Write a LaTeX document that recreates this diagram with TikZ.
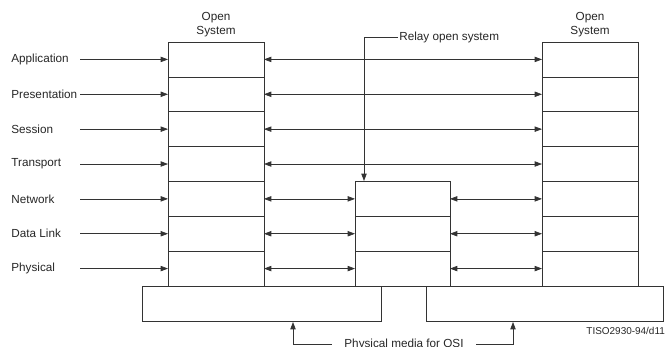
\documentclass[tikz,border=0pt]{standalone}
\usepackage{fontspec}
\setmainfont{Liberation Sans}
\usetikzlibrary{arrows.meta,positioning,calc}
\tikzset{
  layer/.style={draw=black!80, line width=0.6pt, minimum width=2.88cm, minimum height=1.046cm, inner sep=0pt, outer sep=0pt},
  media/.style={draw=black!80, line width=0.6pt, minimum height=1.05cm, inner sep=0pt, outer sep=0pt},
  lbl/.style={anchor=west, inner sep=1pt},
  line/.style={-{Triangle[length=2.2mm,width=1.6mm]}, draw=black!80, line width=0.6pt},
  dline/.style={{Triangle[length=2.2mm,width=1.6mm]}-{Triangle[length=2.2mm,width=1.6mm]}, draw=black!80, line width=0.6pt}
}
\begin{document}
\begin{tikzpicture}[x=0.03cm, y=-0.03cm, font=\fontsize{10}{12}\selectfont, text=black!85]
  \useasboundingbox (0,0) rectangle (671,347);
  % open systems and layer names
  \node[align=center] (osl) at (216,25) {Open\\System};
  \node[align=center] (osr) at (590,25) {Open\\System};
  \foreach \i/\name in {1/Application,2/Presentation,3/Session,4/Transport,5/Network,6/Data Link,7/Physical} {
    \node[lbl] (lbl\i) at (10,{42+(\i-0.5)*34.86}) {\name};
    \coordinate (s\i) at (80,{42+(\i-0.5)*34.86});
    \node[layer] (L\i) at (216,{42+(\i-0.5)*34.86}) {};
    \node[layer] (R\i) at (590,{42+(\i-0.5)*34.86}) {};
    \draw[line] (s\i) -- (L\i);
  }
  % relay open system
  \foreach \i in {5,6,7}
    \node[layer, minimum width=2.85cm] (M\i) at (402.5,{42+(\i-0.5)*34.86}) {};
  \foreach \i in {1,...,4}
    \draw[dline] (L\i) -- (R\i);
  \foreach \i in {5,6,7} {
    \draw[dline] (L\i) -- (M\i);
    \draw[dline] (M\i) -- (R\i);
  }
  \node[lbl] (relay) at (398,37) {Relay open system};
  \coordinate (rtip) at (364,181);
  \draw[line] (relay.west) -| (rtip);
  % physical media
  \node[media, minimum width=7.17cm] (pm1) at (261.5,303.5) {};
  \node[media, minimum width=7.11cm] (pm2) at (544.5,303.5) {};
  \node[inner xsep=0.38cm] (pmlbl) at (404,344) {Physical media for OSI};
  \coordinate (m1) at (293,322);
  \coordinate (m2) at (513,322);
  \draw[line] (pmlbl.west) -| (m1);
  \draw[line] (pmlbl.east) -| (m2);
  \node[anchor=east, font=\fontsize{8.5}{10}\selectfont] (tiso) at (669,331) {TISO2930-94/d11};
\end{tikzpicture}
\end{document}
